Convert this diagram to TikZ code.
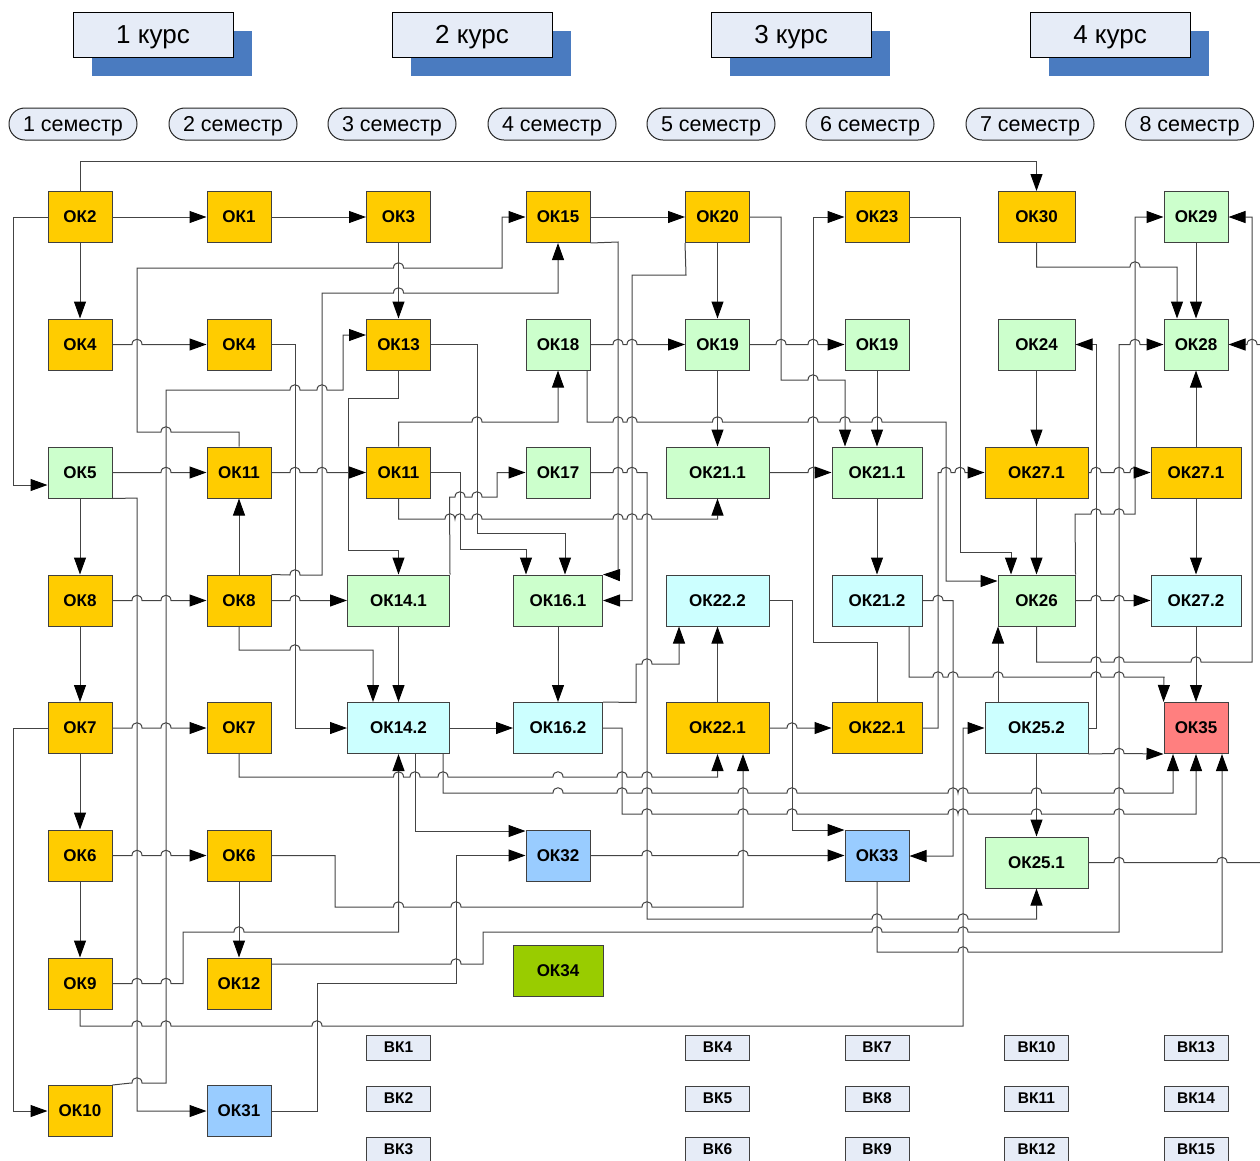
\documentclass[tikz,border=0pt]{standalone}
\usepackage{fontspec}
\setmainfont{Liberation Sans}
\usetikzlibrary{arrows.meta}
\definecolor{org}{HTML}{FFCC00}
\definecolor{grn}{HTML}{CCFFCC}
\definecolor{cyn}{HTML}{CCFFFF}
\definecolor{blu}{HTML}{99CCFF}
\definecolor{rd}{HTML}{FF7F7F}
\definecolor{lim}{HTML}{99CC00}
\definecolor{pale}{HTML}{E6ECF7}
\definecolor{shb}{HTML}{4A7BC0}
\definecolor{edge}{HTML}{404040}
\definecolor{wire}{HTML}{444444}
\newcommand\hopR[2]{-- ({#1-5},#2) .. controls ({#1-5},{#2-7}) and ({#1+5},{#2-7}) .. ({#1+5},#2)}
\newcommand\hopL[2]{-- ({#1+5},#2) .. controls ({#1+5},{#2-7}) and ({#1-5},{#2-7}) .. ({#1-5},#2)}
\tikzset{
  box/.style={draw=edge, line width=1pt, minimum height=51pt, minimum width=64pt, inner sep=0pt,
    font=\fontsize{17}{18}\selectfont\bfseries},
  ob/.style={box, fill=org},
  gb/.style={box, fill=grn},
  cb/.style={box, fill=cyn},
  bb/.style={box, fill=blu},
  bk/.style={draw=edge, fill=pale, line width=1pt, minimum width=64pt, minimum height=25pt, inner sep=0pt,
    font=\fontsize{15.5}{17}\selectfont\bfseries},
  kurs/.style={draw=black, fill=pale, line width=1pt, minimum width=160pt, minimum height=45pt, inner sep=0pt,
    text depth=0pt, font=\fontsize{26}{28}\selectfont},
  sem/.style={draw=black!85, fill=pale, line width=1pt, rounded corners=15.9pt, minimum width=128pt,
    minimum height=32pt, inner sep=0pt, text depth=0pt, font=\fontsize{21.5}{24}\selectfont},
  wr/.style={draw=wire, line width=1pt},
  ar/.style={wr, -{Triangle[length=17pt,width=12pt,color=black]}}
}
\begin{document}
\begin{tikzpicture}[x=1pt,y=-1pt]
\useasboundingbox (0,0) rectangle (1260,1160);
% headers
\foreach \i/\cx in {1/153,2/472,3/791,4/1110}{
  \fill[shb] (\cx-61,31) rectangle (\cx+99,76);
  \node[kurs] (kurs\i) at (\cx,34.5) {\i\ курс};
}
\foreach \i/\cx in {1/73,2/233,3/392,4/552,5/711,6/870,7/1030,8/1189.5}
  \node[sem] (sem\i) at (\cx,124) {\i\ семестр};
% row 0
\node[ob] (ok2) at (80,217) {ОК2};
\node[ob] (ok1) at (239,217) {ОК1};
\node[ob] (ok3) at (398.5,217) {ОК3};
\node[ob] (ok15) at (558,217) {ОК15};
\node[ob] (ok20) at (717.5,217) {ОК20};
\node[ob] (ok23) at (877,217) {ОК23};
\node[ob, minimum width=77pt] (ok30) at (1036.5,217) {ОК30};
\node[gb] (ok29) at (1196,217) {ОК29};
% row 1
\node[ob] (ok4a) at (80,344.5) {ОК4};
\node[ob] (ok4b) at (239,344.5) {ОК4};
\node[ob] (ok13) at (398.5,344.5) {ОК13};
\node[gb] (ok18) at (558,344.5) {ОК18};
\node[gb] (ok19a) at (717.5,344.5) {ОК19};
\node[gb] (ok19b) at (877,344.5) {ОК19};
\node[gb, minimum width=77pt] (ok24) at (1036.5,344.5) {ОК24};
\node[gb] (ok28) at (1196,344.5) {ОК28};
% row 2
\node[gb] (ok5) at (80,472.5) {ОК5};
\node[ob] (ok11a) at (239,472.5) {ОК11};
\node[ob] (ok11b) at (398.5,472.5) {ОК11};
\node[gb] (ok17) at (558,472.5) {ОК17};
\node[gb, minimum width=103pt] (ok211a) at (717.5,472.5) {ОК21.1};
\node[gb, minimum width=90pt] (ok211b) at (877,472.5) {ОК21.1};
\node[ob, minimum width=103pt] (ok271a) at (1036.5,472.5) {ОК27.1};
\node[ob, minimum width=90pt] (ok271b) at (1196,472.5) {ОК27.1};
% row 3
\node[ob] (ok8a) at (80,600.5) {ОК8};
\node[ob] (ok8b) at (239,600.5) {ОК8};
\node[gb, minimum width=102pt] (ok141) at (398.5,600.5) {ОК14.1};
\node[gb, minimum width=89pt] (ok161) at (558,600.5) {ОК16.1};
\node[cb, minimum width=103pt] (ok222) at (717.5,600.5) {ОК22.2};
\node[cb, minimum width=90pt] (ok212) at (877,600.5) {ОК21.2};
\node[gb, minimum width=77pt] (ok26) at (1036.5,600.5) {ОК26};
\node[cb, minimum width=90pt] (ok272) at (1196,600.5) {ОК27.2};
% row 4
\node[ob] (ok7a) at (80,728) {ОК7};
\node[ob] (ok7b) at (239,728) {ОК7};
\node[cb, minimum width=102pt] (ok142) at (398.5,728) {ОК14.2};
\node[cb, minimum width=89pt] (ok162) at (558,728) {ОК16.2};
\node[ob, minimum width=103pt] (ok221a) at (717.5,728) {ОК22.1};
\node[ob, minimum width=90pt] (ok221b) at (877,728) {ОК22.1};
\node[cb, minimum width=103pt] (ok252) at (1036.5,728) {ОК25.2};
\node[box, fill=rd] (ok35) at (1196,728) {ОК35};
% row 5
\node[ob] (ok6a) at (80,855.5) {ОК6};
\node[ob] (ok6b) at (239,855.5) {ОК6};
\node[bb] (ok32) at (558,855.5) {ОК32};
\node[bb] (ok33) at (877,855.5) {ОК33};
\node[gb, minimum width=103pt] (ok251) at (1036.5,862.5) {ОК25.1};
% row 6, 7
\node[ob] (ok9) at (80,983.5) {ОК9};
\node[ob] (ok12) at (239,983.5) {ОК12};
\node[box, fill=lim, minimum width=90pt] (ok34) at (558,970.5) {ОК34};
\node[ob] (ok10) at (80,1111) {ОК10};
\node[bb] (ok31) at (239,1111) {ОК31};
% BK
\foreach \n/\cx/\cy in {1/398.5/1047.5,2/398.5/1098.5,3/398.5/1149.5,
  4/717.5/1047.5,5/717.5/1098.5,6/717.5/1149.5,
  7/877/1047.5,8/877/1098.5,9/877/1149.5,
  10/1036.5/1047.5,11/1036.5/1098.5,12/1036.5/1149.5,
  13/1196/1047.5,14/1196/1098.5,15/1196/1149.5}
  \node[bk] (bk\n) at (\cx,\cy) {ВК\n};
% ---------- connectors ----------
\draw[ar] (ok2.north) -- (80,161) -| (ok30.north);
\draw[ar] (ok2.east) -- (ok1.west);
\draw[ar] (ok1.east) -- (ok3.west);
\draw[ar] (ok2.west) -- (13,217) -- (13,485) -- (ok5.west |- 0,485);
\draw[ar] (ok2.south) -- (ok4a.north);
\draw[ar] (ok3.south) -- (ok13.north);
\draw[ar] (ok11a.north) -- (239,432) \hopL{166}{432} -- (137,432) -- (137,268) \hopR{398.5}{268} -- (502,268) -- (502,217) -- (ok15.west);
\draw[ar] (ok8b.north east) \hopR{295}{575} -- (322,575) -- (322,293) \hopR{398.5}{293} -- (558,293) -- (ok15.south);
\draw[ar] (ok4a.east) \hopR{137}{344.5} -- (ok4b.west);
\draw[ar] (ok4b.east) -- (295,344.5) -- (295,728) -- (ok142.west);
\draw[ar] (ok10.north east) -- (131,1083) \hopR{137}{1083} -- (166,1083) -- (166,390) \hopR{295}{390} \hopR{322}{390} -- (343,390) -- (343,335) -- (ok13.west |- 0,335);
\draw[ar] (ok13.south) -- (398.5,398) -- (348,398) -- (348,550) -- (398.5,550) -- (ok141.north);
\draw[ar] (ok13.east) -- (477,344.5) -- (477,533) -- (565,533) -- (ok161.north -| 565,0);
\draw[ar] (ok11b.north) -- (398.5,422) \hopR{477}{422} -- (558,422) -- (ok18.south);
\draw[ar] (ok11a.east) \hopR{295}{472.5} \hopR{322}{472.5} -- (ok11b.west);
\draw[ar] (ok5.east) \hopR{166}{472.5} -- (ok11a.west);
\draw[ar] (ok11b.east) -- (460,472.5) -- (460,549) -- (526,549) -- (ok161.north -| 526,0);
\draw[ar] (ok11b.south) -- (398.5,519) \hopR{450}{519} \hopR{460}{519} \hopR{477}{519} \hopR{618}{519} \hopR{632}{519} \hopR{647}{519} -- (717.5,519) -- (ok211a.south);
\draw[ar] (ok141.north east) -- (449.5,497) \hopR{460}{497} \hopR{477}{497} -- (497,497) -- (497,472.5) -- (ok17.west);
\draw[ar] (ok15.east) -- (ok20.west);
\draw[ar] (ok15.south east) -- (618,242) -- (618,575) -- (ok161.north east);
\draw[ar] (ok20.south west) -- (686,275) -- (632,275) -- (632,600.5) -- (ok161.east);
\draw[ar] (ok20.south) -- (ok19a.north);
\draw[ar] (ok20.east) -- (781,217) -- (781,380) \hopR{813}{380} -- (845,380) -- (ok211b.north -| 845,0);
\draw[ar] (ok221b.north) -- (877,642) -- (813,642) -- (813,217) -- (ok23.west);
\draw[ar] (ok18.east) \hopR{618}{344.5} \hopR{632}{344.5} -- (ok19a.west);
\draw[ar] (ok19a.east) \hopR{781}{344.5} \hopR{813}{344.5} -- (ok19b.west);
\draw[ar] (ok18.south -| 587,0) -- (587,422) \hopR{618}{422} \hopR{632}{422} \hopR{717.5}{422} \hopR{813}{422} \hopR{845}{422} \hopR{877}{422} -- (946,422) -- (946,581) -- (ok26.west |- 0,581);
\draw[ar] (ok19a.south) -- (ok211a.north);
\draw[ar] (ok19b.south) -- (ok211b.north);
\draw[ar] (ok23.east) -- (960,217) -- (960,552) -- (1011,552) -- (ok26.north -| 1011,0);
\draw[ar] (ok30.south) -- (1036.5,267) \hopR{1135}{267} -- (1177,267) -- (ok28.north -| 1177,0);
\draw[ar] (ok29.south) -- (ok28.north);
\draw[ar] (ok26.north east) -- (1075,514) \hopR{1096}{514} \hopR{1119}{514} -- (1135,514) -- (1135,217) -- (ok29.west);
\draw[ar] (ok26.south) -- (1036.5,662) \hopR{1096}{662} \hopR{1119}{662} \hopR{1196}{662} -- (1252,662) -- (1252,217) -- (ok29.east);
\draw[ar] (ok252.east) -- (1096,728) -- (1096,344.5) -- (ok24.east);
\draw[ar] (ok12.east |- 0,964) \hopR{456}{964} -- (483,964) -- (483,932) \hopR{877}{932} \hopR{963}{932} -- (1119,932) -- (1119,344.5) \hopR{1135}{344.5} -- (ok28.west);
\draw[ar] (ok251.east) \hopR{1119}{862.5} \hopR{1222}{862.5} -- (1262,862.5) -- (1262,344.5) \hopL{1252}{344.5} -- (ok28.east);
\draw[ar] (ok221b.east) -- (938,728) -- (938,472.5) \hopR{946}{472.5} \hopR{960}{472.5} -- (ok271a.west);
\draw[ar] (ok271a.east) \hopR{1096}{472.5} \hopR{1119}{472.5} \hopR{1135}{472.5} -- (ok271b.west);
\draw[ar] (ok271a.south) -- (ok26.north);
\draw[ar] (ok24.south) -- (ok271a.north);
\draw[ar] (ok271b.north) -- (ok28.south);
\draw[ar] (ok271b.south) -- (ok272.north);
\draw[ar] (ok26.east) \hopR{1096}{600.5} \hopR{1119}{600.5} -- (ok272.west);
\draw[ar] (ok272.south) -- (ok35.north);
\draw[ar] (ok212.south -| 909,0) -- (909,677) \hopR{938}{677} \hopR{953}{677} \hopR{998}{677} \hopR{1096}{677} \hopR{1119}{677} -- (1164,677) -- (ok35.north west);
\draw[ar] (ok252.north -| 998,0) -- (ok26.south -| 998,0);
\draw[ar] (ok212.east) \hopR{938}{600.5} -- (953,600.5) -- (953,856) -- (ok33.east |- 0,856);
\draw[ar] (ok9.south) -- (80,1026) \hopR{137}{1026} \hopR{166}{1026} \hopR{317}{1026} -- (963,1026) -- (963,728) -- (ok252.west);
\draw[ar] (ok252.south east) \hopR{1119}{753.5} -- (ok35.south west);
\draw[ar] (ok252.south) -- (ok251.north);
\draw[ar] (ok142.south -| 443,0) -- (443,793) \hopR{558}{793} \hopR{622}{793} \hopR{647}{793} \hopR{743}{793} \hopR{792}{793} \hopR{953}{793} \hopR{963}{793} \hopR{1036.5}{793} \hopR{1119}{793} -- (1173,793) -- (ok35.south -| 1173,0);
\draw[ar] (ok142.south -| 415,0) -- (415,831) -- (ok32.west |- 0,831);
\draw[ar] (ok7b.south) -- (239,777) \hopR{398.5}{777} \hopR{415}{777} \hopR{443}{777} \hopR{558}{777} \hopR{622}{777} \hopR{647}{777} -- (717.5,777) -- (ok221a.south);
\draw[ar] (ok162.east) -- (622,728) -- (622,814) \hopR{647}{814} \hopR{743}{814} \hopR{792}{814} \hopR{953}{814} \hopR{963}{814} \hopR{1036.5}{814} \hopR{1119}{814} -- (1196,814) -- (ok35.south);
\draw[ar] (ok222.east) -- (792,600.5) -- (792,830) -- (ok33.west |- 0,830);
\draw[ar] (ok32.east) \hopR{647}{855.5} \hopR{743}{855.5} -- (ok33.west);
\draw[ar] (ok6b.east) -- (335,855.5) -- (335,907) \hopR{398.5}{907} \hopR{456}{907} \hopR{647}{907} -- (743,907) -- (ok221a.south -| 743,0);
\draw[ar] (ok17.east) \hopR{618}{472.5} \hopR{632}{472.5} -- (647,472.5) -- (647,919) \hopR{877}{919} \hopR{963}{919} -- (1036.5,919) -- (ok251.south);
\draw[ar] (ok33.south) -- (877,952) \hopR{963}{952} -- (1222,952) -- (ok35.south -| 1222,0);
\draw[ar] (ok9.east) \hopR{137}{983.5} \hopR{166}{983.5} -- (183,983.5) -- (183,932) \hopR{239}{932} -- (398.5,932) -- (ok142.south);
\draw[ar] (ok31.east) -- (317,1111) -- (317,983.5) -- (456,983.5) -- (456,855.5) -- (ok32.west);
\draw[ar] (ok8b.north) -- (ok11a.south);
\draw[ar] (ok8a.east) \hopR{137}{600.5} \hopR{166}{600.5} -- (ok8b.west);
\draw[ar] (ok8b.east) \hopR{295}{600.5} -- (ok141.west);
\draw[ar] (ok8b.south) -- (239,650) \hopR{295}{650} -- (373,650) -- (ok142.north -| 373,0);
\draw[ar] (ok141.south) -- (ok142.north);
\draw[ar] (ok142.east) -- (ok162.west);
\draw[ar] (ok161.south) -- (ok162.north);
\draw[ar] (ok162.north east) -- (636,702.5) -- (636,664) \hopR{647}{664} -- (679,664) -- (ok222.south -| 679,0);
\draw[ar] (ok221a.north) -- (ok222.south);
\draw[ar] (ok221a.east) \hopR{792}{728} -- (ok221b.west);
\draw[ar] (ok5.south east) -- (137,498) -- (137,1111) -- (ok31.west);
\draw[ar] (ok5.south) -- (ok8a.north);
\draw[ar] (ok8a.south) -- (ok7a.north);
\draw[ar] (ok7a.south) -- (ok6a.north);
\draw[ar] (ok6a.south) -- (ok9.north);
\draw[ar] (ok7a.east) \hopR{137}{728} \hopR{166}{728} -- (ok7b.west);
\draw[ar] (ok6a.east) \hopR{137}{855.5} \hopR{166}{855.5} -- (ok6b.west);
\draw[ar] (ok6b.south) -- (ok12.north);
\draw[ar] (ok7a.west) -- (13,728) -- (13,1111) -- (ok10.west);
\draw[ar] (ok211a.east) \hopR{813}{472.5} -- (ok211b.west);
\draw[ar] (ok211b.south) -- (ok212.north);
\end{tikzpicture}
\end{document}
